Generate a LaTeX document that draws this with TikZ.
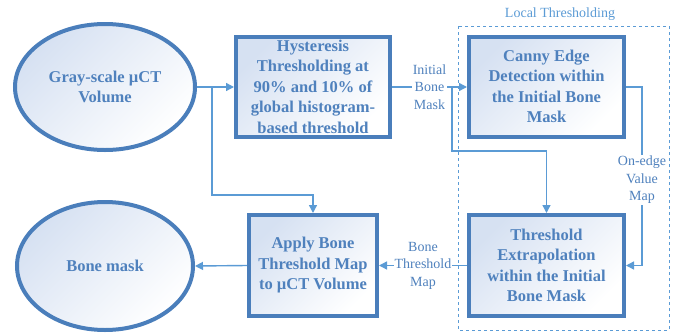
\documentclass[tikz,border=0pt]{standalone}
\usepackage{fontspec}
\setmainfont{Liberation Serif}
\usetikzlibrary{arrows.meta,shapes.geometric}
\definecolor{boxblue}{RGB}{74,126,187}
\definecolor{txtblue}{RGB}{79,129,189}
\definecolor{lineblue}{RGB}{91,155,213}
\definecolor{fillb}{RGB}{214,225,242}
\tikzset{
  procbox/.style={draw=boxblue, line width=4pt, rectangle, align=center,
    top color=fillb, bottom color=white, shading angle=45, text=txtblue,
    font=\fontsize{16.5}{20.5}\selectfont\bfseries, inner sep=0pt},
  termell/.style={draw=boxblue, line width=4pt, ellipse, align=center,
    top color=fillb, bottom color=white, shading angle=45, text=txtblue,
    font=\fontsize{16.5}{20.5}\selectfont\bfseries, inner sep=0pt},
  conn/.style={draw=lineblue, line width=1.4pt, -{Triangle[length=8pt,width=8pt]}},
  lbl/.style={fill=white, text=txtblue, align=center, inner sep=1pt,
    font=\fontsize{14}{17.5}\selectfont},
}
\begin{document}
\begin{tikzpicture}[x=1pt,y=-1pt]
\useasboundingbox (0,0) rectangle (673,333);
% dashed group
\draw[lineblue, line width=1pt, dashed] (458,26) rectangle (669,330);
\node[text=lineblue, font=\fontsize{14}{17}\selectfont] (lt) at (560,14) {Local Thresholding};
% nodes
\node[termell, minimum width=180pt, minimum height=126pt] (gray) at (105,87) {Gray-scale µCT\\Volume};
\node[termell, minimum width=176pt, minimum height=128pt] (mask) at (105,266) {Bone mask};
\node[procbox, minimum width=154pt, minimum height=100pt] (hyst) at (313,86.5) {Hysteresis\\Thresholding at\\90\% and 10\% of\\global histogram-\\based threshold};
\node[procbox, minimum width=155pt, minimum height=100pt] (canny) at (546.5,86.5) {Canny Edge\\Detection within\\the Initial Bone\\Mask};
\node[procbox, minimum width=128pt, minimum height=101pt] (apply) at (313,265.5) {Apply Bone\\Threshold Map\\to µCT Volume};
\node[procbox, minimum width=155pt, minimum height=101pt] (thr) at (546.5,265.5) {Threshold\\Extrapolation\\within the Initial\\Bone Mask};
% coordinates
\coordinate (b1) at (212,87);
\coordinate (b1d) at (212,195);
\coordinate (b2) at (452,87);
\coordinate (b2d) at (452,151);
\coordinate (c1) at (642,87);
\coordinate (thrtop) at (546.5,151);
% connectors
\draw[conn] (gray.east |- b1) -- (hyst.west |- b1);
\draw[conn] (b1) -- (b1d) -| (apply.north);
\draw[conn] (hyst.east |- b1) -- node[lbl, pos=0.5]{Initial\\Bone\\Mask} (canny.west |- b1);
\draw[conn] (b2) -- (b2d) -- (thrtop) -- (thr.north);
\draw[conn] (canny.east |- c1) -- (c1) |- node[lbl, pos=0.26]{On-edge\\Value\\Map} (thr.east);
\draw[conn] (thr.west) -- node[lbl, pos=0.5]{Bone\\Threshold\\Map} (apply.east);
\draw[conn] (apply.west) -- (mask.east);
\end{tikzpicture}
\end{document}
